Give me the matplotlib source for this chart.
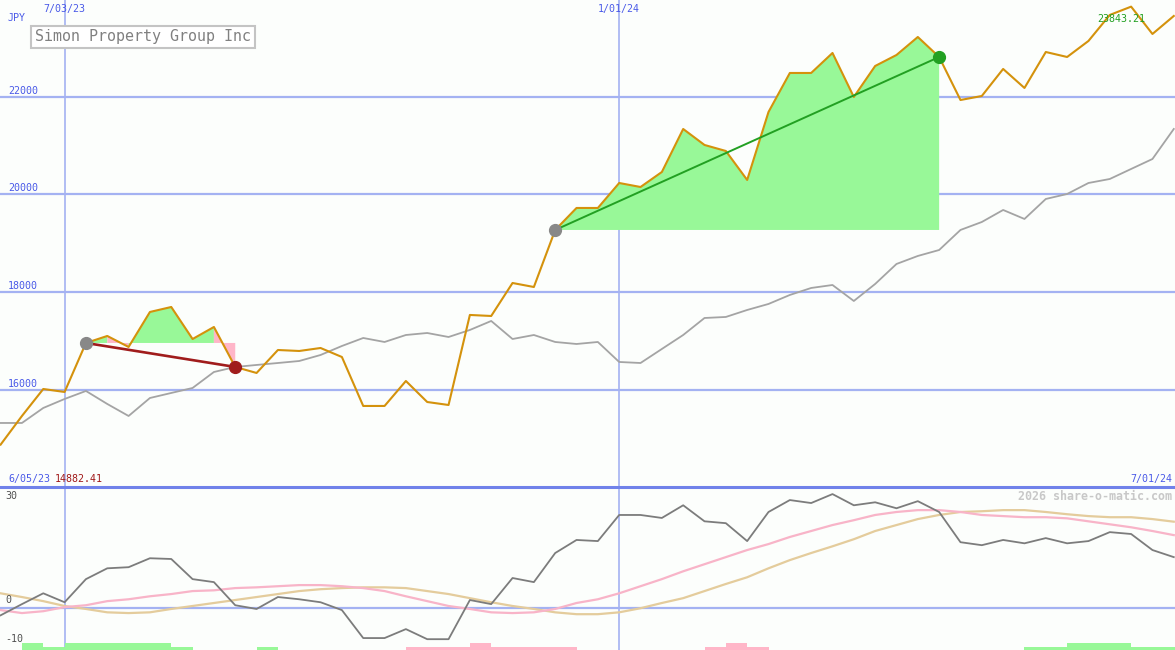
import matplotlib
matplotlib.use("Agg")
import matplotlib.pyplot as plt
import matplotlib.dates as mdates
import pandas as pd
from matplotlib.lines import Line2D

# weekly closes
dates = pd.date_range("2023-06-12", periods=56, freq="7D")
price = [14882, 15468, 16020, 15959, 16962, 17105, 16880, 17596, 17698, 17043,
         17289, 16471, 16348, 16818, 16798, 16859, 16675, 15673, 15673, 16184,
         15754, 15693, 17535, 17514, 18189, 18107, 19274, 19724, 19724, 20235,
         20153, 20460, 21340, 21013, 20890, 20297, 21688, 22486, 22486, 22895,
         21995, 22629, 22854, 23222, 22813, 21933, 22015, 22568, 22179, 22915,
         22813, 23141, 23673, 23843.21, 23284, 23652]
avg = [15325, 15325, 15632, 15816, 15980, 15714, 15468, 15836, 15939, 16041,
       16368, 16471, 16512, 16552, 16593, 16716, 16900, 17064, 16982, 17125,
       17166, 17084, 17228, 17412, 17043, 17125, 16982, 16941, 16982, 16573,
       16552, 16839, 17125, 17473, 17494, 17637, 17760, 17944, 18087, 18148,
       17821, 18169, 18578, 18742, 18864, 19274, 19437, 19683, 19499, 19908,
       20010, 20235, 20317, 20522, 20726, 21340]

# lower panel
osc = [-2.0, 1.0, 3.9, 1.5, 7.7, 10.6, 10.9, 13.3, 13.1, 7.7,
       6.9, 0.7, -0.3, 2.9, 2.3, 1.5, -0.6, -8.1, -8.1, -5.7,
       -8.4, -8.4, 2.1, 1.0, 8.0, 6.9, 14.7, 18.2, 17.9, 24.9,
       24.9, 24.1, 27.5, 23.2, 22.7, 17.9, 25.7, 28.9, 28.1, 30.5,
       27.5, 28.3, 26.7, 28.6, 25.7, 17.6, 16.8, 18.2, 17.3, 18.7,
       17.3, 17.9, 20.3, 19.8, 15.5, 13.6]
osc_fast = [-0.6, -1.4, -0.9, 0.2, 0.7, 1.8, 2.3, 3.1, 3.7, 4.5,
            4.7, 5.3, 5.5, 5.8, 6.1, 6.1, 5.8, 5.3, 4.5, 3.1,
            1.8, 0.5, -0.3, -1.2, -1.4, -1.2, -0.3, 1.3, 2.3, 3.9,
            5.8, 7.7, 9.8, 11.7, 13.6, 15.5, 17.1, 19.0, 20.6, 22.2,
            23.5, 24.9, 25.7, 26.2, 26.2, 25.7, 24.9, 24.6, 24.3, 24.3,
            24.0, 23.2, 22.4, 21.6, 20.6, 19.5]
osc_slow = [3.9, 2.9, 1.8, 0.5, -0.3, -1.2, -1.4, -1.2, -0.3, 0.5,
            1.3, 2.1, 2.9, 3.7, 4.5, 5.0, 5.3, 5.5, 5.5, 5.3,
            4.5, 3.7, 2.6, 1.5, 0.5, -0.3, -1.2, -1.7, -1.7, -1.2,
            -0.1, 1.3, 2.6, 4.5, 6.4, 8.2, 10.6, 12.8, 14.7, 16.5,
            18.4, 20.6, 22.2, 23.8, 24.9, 25.7, 25.9, 26.2, 26.2, 25.7,
            25.1, 24.6, 24.3, 24.3, 23.8, 23.1]
signal = [0, 2, 1, 2, 2, 2, 2, 2, 1, 0,
          0, 0, 1, 0, 0, 0, 0, 0, 0, -1,
          -1, -1, -2, -1, -1, -1, -1, 0, 0, 0,
          0, 0, 0, -1, -2, -1, 0, 0, 0, 0,
          0, 0, 0, 0, 0, 0, 0, 0, 1, 1,
          2, 2, 2, 1, 1, 1]

trades = [(4, 11), (26, 44)]
price_ticks = [16000, 18000, 20000, 22000]
date_lines = ["2023-07-03", "2024-01-01"]
date_labels = ["7/03/23", "1/01/24"]
osc_ticks = [30, 0, -10]

BG = "#fcfefc"
GRID = "#a4b2f2"
BLUE = "#4a5ae8"
GREEN_FILL = "#98f898"
PINK_FILL = "#ffb6c8"

plt.rcParams["font.family"] = "DejaVu Sans Mono"

W, H = 1175.0, 650.0
TOP_H, BOT_H = 487.0, 163.0
fig = plt.figure(figsize=(11.75, 6.5), dpi=100, facecolor=BG)
ax = fig.add_axes([0, BOT_H / H, 1, TOP_H / H], facecolor=BG)
ax2 = fig.add_axes([0, 0, 1, BOT_H / H], facecolor=BG)

x = mdates.date2num(dates)
xmin, xmax = x[0] - 0.2, x[-1] + 0.4
for a in (ax, ax2):
    a.set_xlim(xmin, xmax)
    a.set_xticks([])
    a.set_yticks([])
    for s in a.spines.values():
        s.set_visible(False)

ax.set_ylim(14015, 23979)
ax2.set_ylim(-11.3, 32.4)

# grid
for v in price_ticks:
    ax.axhline(v, color=GRID, lw=1.6, zorder=1)
    ax.annotate(str(v), (8 / W, v), xycoords=ax.get_yaxis_transform(),
                xytext=(0, 1), textcoords="offset pixels",
                color=BLUE, fontsize=7.2, va="bottom", ha="left")
for d, lab in zip(date_lines, date_labels):
    dn = mdates.date2num(pd.Timestamp(d))
    ax.axvline(dn, color=GRID, lw=1.2, zorder=1)
    ax2.axvline(dn, color=GRID, lw=1.2, zorder=1)
    ax.text(dn, 1 - 9 / TOP_H, lab, transform=ax.get_xaxis_transform(),
            color=BLUE, fontsize=7.2, ha="center", va="center")
ax.text(8 / W, 1 - 18 / TOP_H, "JPY", transform=ax.transAxes,
        color=BLUE, fontsize=7.2, ha="left", va="center")

# trade shading: a segment takes its colour from where it ends,
# runs of the same colour are filled as one polygon
for i0, i1 in trades:
    lvl = price[i0]
    runs = []
    for i in range(i0, i1):
        col = GREEN_FILL if price[i + 1] >= lvl else PINK_FILL
        if runs and runs[-1][0] == col:
            runs[-1][2] = i + 1
        else:
            runs.append([col, i, i + 1])
    for col, a0, a1 in runs:
        xs = [x[a0]] + list(x[a0:a1 + 1]) + [x[a1]]
        ys = [lvl] + price[a0:a1 + 1] + [lvl]
        ax.fill(xs, ys, fc=col, lw=0, zorder=2)

ax.plot(x, avg, color="#a4a4a4", lw=1.3, zorder=3)
ax.plot(x, price, color="#d4920c", lw=1.5, zorder=4)

for i0, i1 in trades:
    win = price[i1] > price[i0]
    lc = "#22a022" if win else "#a01c1c"
    ax.plot([x[i0], x[i1]], [price[i0], price[i1]], color=lc,
            lw=1.4 if win else 1.9, zorder=5)
    ax.plot(x[i0], price[i0], "o", color="#888888", ms=8.5, zorder=6)
    ax.plot(x[i1], price[i1], "o", color=lc, ms=8.5, zorder=6)

# high label
imax = price.index(max(price))
ax.annotate(f"{max(price):.2f}", (x[imax], price[imax]), xytext=(-10, -12),
            textcoords="offset pixels", color="#22a022", fontsize=7.2,
            ha="center", va="center", zorder=7)

# title box
fig.text(35 / W, 1 - 37 / H, "Simon Property Group Inc", color="#808080",
         fontsize=10.8, ha="left", va="center",
         bbox=dict(boxstyle="square,pad=0.25", fc="white", ec="#c4c4c4", lw=1.5))

# lower panel
ax2.axhline(0, color=GRID, lw=1.6, zorder=1)
ax2.plot(x, osc_slow, color="#e4cc9c", lw=1.6, zorder=2)
ax2.plot(x, osc_fast, color="#f8b4c8", lw=1.6, zorder=2)
ax2.plot(x, osc, color="#7c7c7c", lw=1.3, zorder=3)

ybot = ax2.get_ylim()[0]
bar_h = {2: 1.9, 1: 0.85, -1: 0.85, -2: 1.9}
for i, s in enumerate(signal):
    if s == 0:
        continue
    ax2.bar(x[i], bar_h[s], width=7, bottom=ybot, align="edge",
            color=GREEN_FILL if s > 0 else PINK_FILL, lw=0, zorder=2)

for v in osc_ticks:
    ax2.annotate(str(v), (5 / W, v), xycoords=ax2.get_yaxis_transform(),
                 xytext=(0, 3 if v == 0 else (0 if v == 30 else 1)),
                 textcoords="offset pixels", color="#505050", fontsize=7.2,
                 ha="left", va="center" if v == 30 else "bottom")

ax2.text(1172 / W, 1 - 9 / BOT_H, "2026 share-o-matic.com", transform=ax2.transAxes,
         color="#c8c8c8", fontsize=8.4, fontweight="bold", ha="right", va="center")

# divider and its labels
fig.add_artist(Line2D([0, 1], [BOT_H / H, BOT_H / H], color="#7082ea", lw=2.2,
                      transform=fig.transFigure))
fig.text(8 / W, 1 - 479 / H, "6/05/23", color=BLUE, fontsize=7.2,
         ha="left", va="center")
fig.text(55 / W, 1 - 479 / H, "14882.41", color="#a01818", fontsize=7.2,
         ha="left", va="center")
fig.text(1172 / W, 1 - 479 / H, "7/01/24", color=BLUE, fontsize=7.2,
         ha="right", va="center")

fig.savefig("out.png", dpi=100, facecolor=BG)
